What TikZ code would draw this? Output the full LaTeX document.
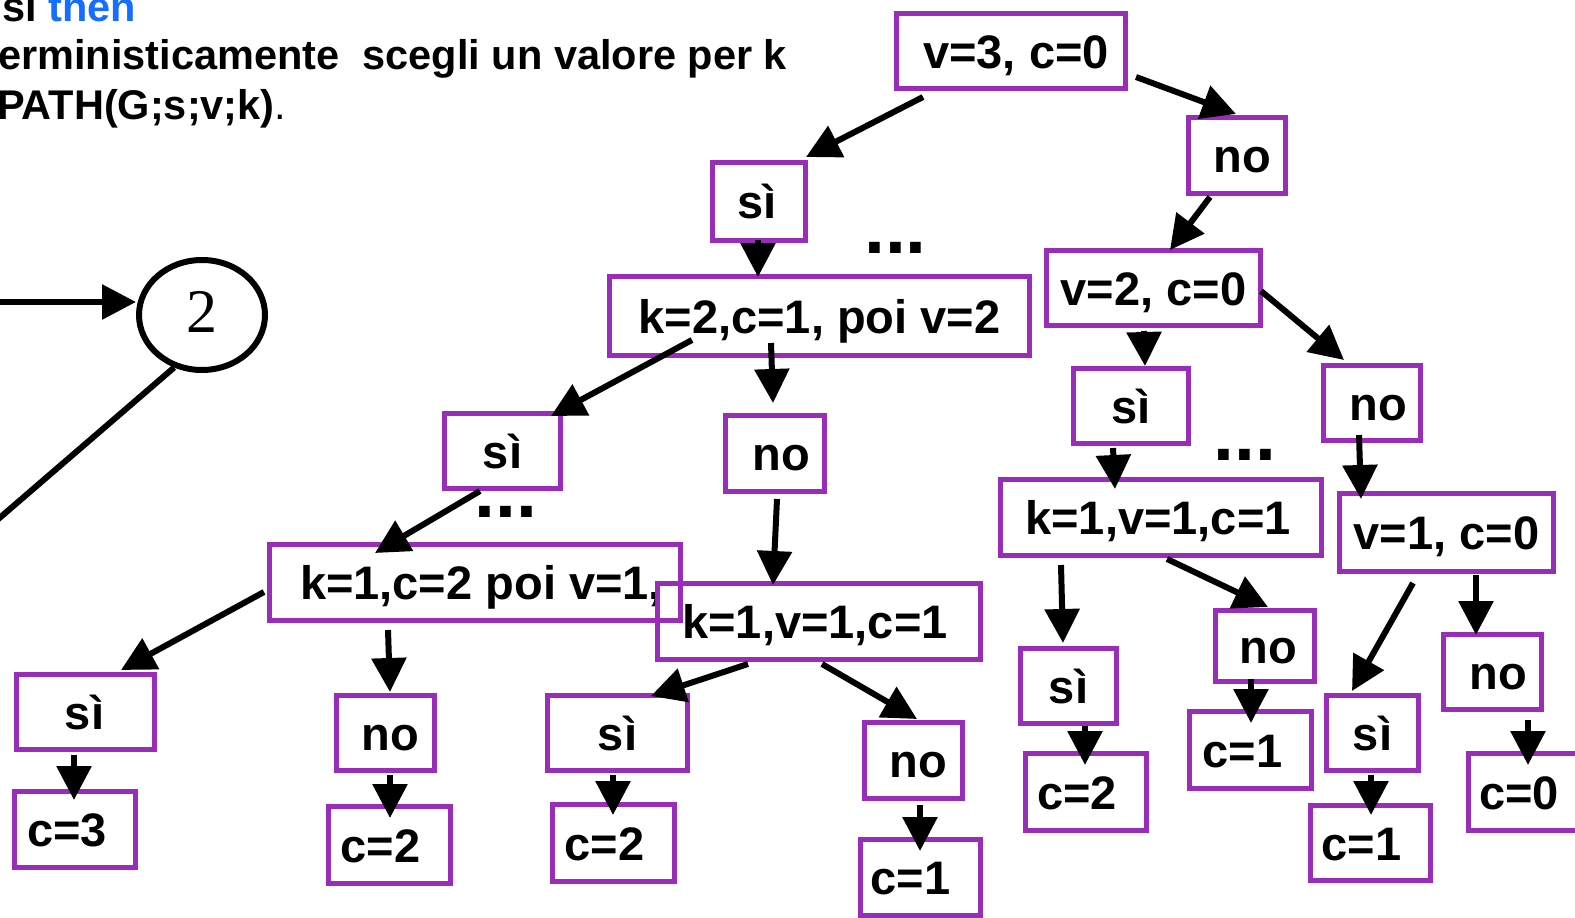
\documentclass[tikz,border=0pt]{standalone}
\usepackage{fontspec}
\setmainfont{Liberation Sans}
\newfontfamily\serifnum{Liberation Serif}
\usetikzlibrary{arrows.meta,shapes.geometric,calc}
\definecolor{boxpurple}{RGB}{153,45,185}
\definecolor{thenblue}{RGB}{20,110,255}
\begin{document}
\begin{tikzpicture}[x=1pt,y=-1pt,
  bx/.style={draw=boxpurple,line width=5pt,inner sep=0pt,
    font=\fontsize{47}{56}\selectfont\bfseries,text height=34pt,text depth=0pt},
  arr/.style={line width=6pt,-{Triangle[length=34pt,width=34pt]}},
  top/.style={anchor=base west,inner sep=0pt,font=\fontsize{41.5}{50}\selectfont\bfseries},
  dots/.style={anchor=base,inner sep=0pt,font=\fontsize{75}{80}\selectfont\bfseries}]
\useasboundingbox (0,0) rectangle (1575,918);
\clip (0,0) rectangle (1575,918);
% top text
\node[top] (t1) at (2,21) {si \textcolor{thenblue}{then}};
\node[top] (t2) at (-2,69) {erministicamente\ \ scegli un valore per k};
\node[top] (t3) at (-3,119) {PATH(G;s;v;k)\textmd{.}};
% circle
\node[ellipse,draw,line width=6pt,minimum width=126,minimum height=110,inner sep=0pt,
  font=\serifnum\fontsize{62}{70}\selectfont] (c2) at (202,315) {\raisebox{6pt}{2}};
\coordinate (inL) at (-5,302);
\coordinate (outL) at (-4,521);
\draw[arr] (inL) -- (inL -| c2.west);
\draw[line width=6pt] (c2.242) -- (outL);
% boxes
\node[bx,minimum width=229,minimum height=75] (n1) at (1011,51) {\hspace*{10pt}v=3, c=0};
\node[bx,minimum width=97,minimum height=76] (n2) at (1237,155.5) {\hspace*{10pt}no};
\node[bx,minimum width=93,minimum height=78] (n3) at (759,201.5) {\hspace*{-4pt}sì};
\node[bx,minimum width=420,minimum height=79] (n4) at (819.5,316) {k=2,c=1, poi v=2};
\node[bx,minimum width=214,minimum height=75] (n5) at (1153.5,288) {v=2, c=0};
\node[bx,minimum width=116,minimum height=75] (n6) at (502.5,451) {sì};
\node[bx,minimum width=99,minimum height=76] (n7) at (775,453.5) {\hspace*{12pt}no};
\node[bx,minimum width=115,minimum height=75] (n8) at (1131,406) {sì};
\node[bx,minimum width=97,minimum height=75] (n9) at (1372,403) {\hspace*{12pt}no};
\node[bx,minimum width=411,minimum height=76] (n10) at (475,582.5) {\hspace*{12pt}k=1,c=2 poi v=1,};
\node[bx,minimum width=323,minimum height=76] (n11) at (819,621.5) {\hspace*{-8pt}k=1,v=1,c=1};
\node[bx,minimum width=321,minimum height=76] (n12) at (1161,517.5) {\hspace*{-6pt}k=1,v=1,c=1};
\node[bx,minimum width=214,minimum height=78] (n13) at (1446.5,532.5) {v=1, c=0};
\node[bx,minimum width=138,minimum height=75] (n14) at (85.5,712) {\hspace*{-2pt}sì};
\node[bx,minimum width=121,minimum height=76] (n15) at (75,829.5) {\hspace*{-16pt}c=3};
\node[bx,minimum width=98,minimum height=75] (n16) at (385.5,733) {\hspace*{10pt}no};
\node[bx,minimum width=122,minimum height=77] (n17) at (389.5,845) {\hspace*{-18pt}c=2};
\node[bx,minimum width=140,minimum height=75] (n18) at (617.5,733) {sì};
\node[bx,minimum width=122,minimum height=77] (n19) at (613.5,843) {\hspace*{-18pt}c=2};
\node[bx,minimum width=98,minimum height=76] (n20) at (913.5,760.5) {\hspace*{10pt}no};
\node[bx,minimum width=120,minimum height=76] (n21) at (920.5,877.5) {\hspace*{-20pt}c=1};
\node[bx,minimum width=96,minimum height=75] (n22) at (1068.5,686) {sì};
\node[bx,minimum width=121,minimum height=77] (n23) at (1086,792) {\hspace*{-18pt}c=2};
\node[bx,minimum width=99,minimum height=71] (n24) at (1265,646) {\hspace*{6pt}no};
\node[bx,minimum width=122,minimum height=77] (n25) at (1250.5,750) {\hspace*{-16pt}c=1};
\node[bx,minimum width=92,minimum height=75] (n26) at (1372.5,733) {sì};
\node[bx,minimum width=120,minimum height=75] (n27) at (1370.5,843) {\hspace*{-18pt}c=1};
\node[bx,minimum width=98,minimum height=75] (n28) at (1492.5,672) {\hspace*{12pt}no};
\node[bx,minimum width=122,minimum height=77] (n29) at (1529,792) {\hspace*{-20pt}c=0};
% dots
\node[dots] (d1) at (895.5,253) {...};
\node[dots] (d2) at (1245,460) {...};
\node[dots] (d3) at (506,517) {...};
% arrows
\draw[arr] ($(n1)+(-88,46)$) -- ($(n3)+(47,-44.5)$);
\draw[arr] ($(n1)+(125,26)$) -- ($(n2)+(-1,-41.5)$);
\draw[arr] ($(n2)+(-27,41.5)$) -- ($(n5)+(16.5,-38)$);
\draw[arr] ($(n3)+(-1,38.5)$) -- ($(n4)+(-61.5,-39)$);
\draw[arr] ($(n4)+(-127.5,24)$) -- ($(n6)+(48.5,-35)$);
\draw[arr] ($(n4)+(-48.5,27)$) -- ($(n7)+(-2,-50.5)$);
\draw[arr] ($(n5)+(-9.5,43)$) -- ($(n8)+(14,-40)$);
\draw[arr] ($(n5)+(107.5,3)$) -- ($(n9)+(-28,-43)$);
\draw[arr] ($(n6)+(-22.5,40)$) -- ($(n10)+(-100,-29.5)$);
\draw[arr] ($(n7)+(2,45.5)$) -- ($(n11)+(-46,-36.5)$);
\draw[arr] ($(n8)+(-18,42)$) -- ($(n12)+(-46,-28.5)$);
\draw[arr] ($(n9)+(-13,32)$) -- ($(n13)+(-85.5,-33.5)$);
\draw[arr] ($(n10)+(-211,9.5)$) -- ($(n14)+(35.5,-42)$);
\draw[arr] ($(n10)+(-87,47.5)$) -- ($(n16)+(4.5,-41)$);
\draw[arr] ($(n11)+(-71,42.5)$) -- ($(n18)+(33.5,-37)$);
\draw[arr] ($(n11)+(3,42.5)$) -- ($(n20)+(3.5,-41.5)$);
\draw[arr] ($(n12)+(-100,47.5)$) -- ($(n22)+(-5.5,-43)$);
\draw[arr] ($(n12)+(6,41.5)$) -- ($(n24)+(3,-39)$);
\draw[arr] ($(n13)+(-33.5,50.5)$) -- ($(n26)+(-20.5,-42)$);
\draw[arr] ($(n13)+(29.5,42.5)$) -- ($(n28)+(-16.5,-37)$);
\draw[arr] ($(n14)+(-11.5,43)$) -- ($(n15)+(-1,-29.5)$);
\draw[arr] ($(n16)+(4.5,42)$) -- ($(n17)+(0.5,-27)$);
\draw[arr] ($(n18)+(-4.5,42)$) -- ($(n19)+(-0.5,-28)$);
\draw[arr] ($(n20)+(6.5,44.5)$) -- ($(n21)+(-0.5,-26.5)$);
\draw[arr] ($(n22)+(16.5,40)$) -- ($(n23)+(-1,-27)$);
\draw[arr] ($(n24)+(-14,33)$) -- ($(n25)+(0.5,-27)$);
\draw[arr] ($(n26)+(-1.5,42)$) -- ($(n27)+(0.5,-28)$);
\draw[arr] ($(n28)+(35.5,48)$) -- ($(n29)+(-1,-27)$);
\end{tikzpicture}
\end{document}
